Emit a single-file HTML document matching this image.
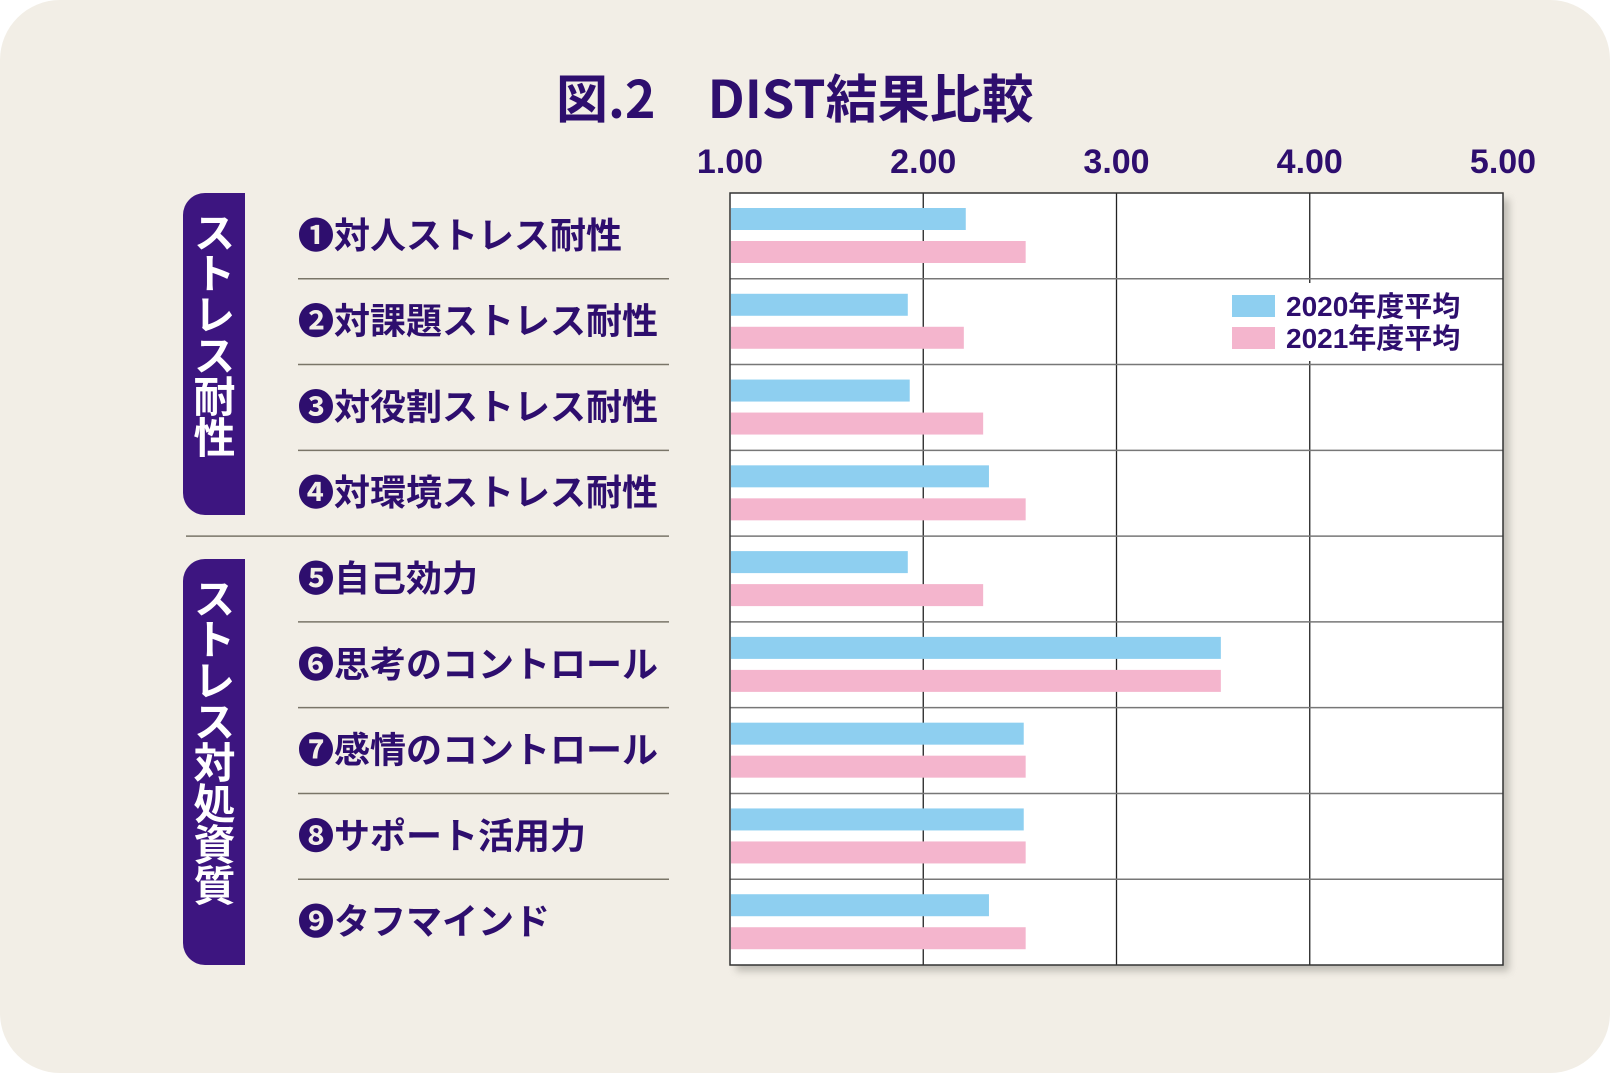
<!DOCTYPE html>
<html><head><meta charset="utf-8">
<style>
html,body{margin:0;padding:0;background:#fff;}
body{width:1610px;height:1073px;position:relative;overflow:hidden;font-family:"Liberation Sans","Noto Sans CJK JP",sans-serif;}
#bg{position:absolute;left:0;top:0;width:1610px;height:1073px;background:#f2eee6;border-radius:60px;}
.t{position:absolute;color:#2e0e6e;font-weight:bold;white-space:nowrap;}
.grp{position:absolute;left:183px;width:62px;background:#3d1580;border-radius:22px 0 0 22px;color:#fff;font-weight:bold;font-size:42px;writing-mode:vertical-rl;text-orientation:upright;letter-spacing:-1px;display:flex;justify-content:flex-start;align-items:center;padding-top:18px;box-sizing:border-box;font-family:"Noto Sans CJK JP",sans-serif;line-height:1;}
</style></head><body>
<div id="bg"></div>
<div class="t" style="left:556px;top:58px;font-size:52px;font-family:'Noto Sans CJK JP',sans-serif;">図.2　DIST結果比較</div>
<div class="grp" style="top:193px;height:322px;">ストレス耐性</div>
<div class="grp" style="top:559px;height:406px;">ストレス対処資質</div>
<svg id="chart" width="1610" height="1073" style="position:absolute;left:0;top:0"></svg>
<script>
const categories=["❶対人ストレス耐性","❷対課題ストレス耐性","❸対役割ストレス耐性","❹対環境ストレス耐性","❺自己効力","❻思考のコントロール","❼感情のコントロール","❽サポート活用力","❾タフマインド"];
const values2020=[2.22,1.92,1.93,2.34,1.92,3.54,2.52,2.52,2.34];
const values2021=[2.53,2.21,2.31,2.53,2.31,3.54,2.53,2.53,2.53];
const ticks=[1,2,3,4,5];
const tickLabels=["1.00","2.00","3.00","4.00","5.00"];
const seriesNames=["2020年度平均","2021年度平均"];

const NS="http://www.w3.org/2000/svg";
const svg=document.getElementById('chart');
const L=730,R=1503,T=193,B=965;
const rowH=(B-T)/categories.length;
const x=v=>L+(v-1)/(5-1)*(R-L);
function mk(tag,attrs,parent){const e=document.createElementNS(NS,tag);for(const k in attrs)e.setAttribute(k,attrs[k]);(parent||svg).appendChild(e);return e;}
const font="'Liberation Sans','Noto Sans CJK JP',sans-serif";
const defs=mk('defs',{});
const f=mk('filter',{id:'blur',x:'-5%',y:'-5%',width:'110%',height:'110%'},defs);
mk('feGaussianBlur',{stdDeviation:4},f);
const sh=mk('rect',{x:L+6,y:T+6,width:R-L,height:B-T,fill:'#8a8780',opacity:0.5,filter:'url(#blur)'});


const pa=mk('rect',{x:L,y:T,width:R-L,height:B-T,fill:'#fff'});


[2,3,4].forEach(v=>{
  const g=mk('line',{x1:x(v),x2:x(v),y1:T,y2:B,stroke:'#222','stroke-width':1.3});
  
  
});
for(let i=1;i<categories.length;i++){
  const y=T+i*rowH;
  const h=mk('line',{x1:L,x2:R,y1:y,y2:y,stroke:'#777','stroke-width':1.5});
  
  
  const l=mk('line',{x1:298,x2:669,y1:y,y2:y,stroke:'#7a7568','stroke-width':1.5});
  
  
  if(i===4){l.setAttribute('x1',186);}
}
categories.forEach((c,i)=>{
  const y0=T+i*rowH;
  const b1=mk('rect',{x:L+1,y:y0+15,width:x(values2020[i])-L-1,height:22,fill:'#8ecff0'});
  
  
  const b2=mk('rect',{x:L+1,y:y0+48,width:x(values2021[i])-L-1,height:22,fill:'#f4b5cd'});
  
  
  const t=mk('text',{x:298,y:y0+rowH/2+12,'font-size':36,'font-weight':'bold',fill:'#2e0e6e','font-family':font});
  t.textContent=c;
  
  
});
mk('rect',{x:L,y:T,width:R-L,height:B-T,fill:'none',stroke:'#333','stroke-width':1.5});
const lgBg=mk('rect',{x:1200,y:283,width:300,height:78,fill:'#fff'});


['#8ecff0','#f4b5cd'].forEach((col,i)=>{
  const s=mk('rect',{x:1232,y:295+i*32,width:43,height:22,fill:col});
  
  
  const t=mk('text',{x:1286,y:316+i*32,'font-size':28,'font-weight':'bold',fill:'#2e0e6e','font-family':font});
  t.textContent=seriesNames[i];
  
  
});
ticks.forEach((v,i)=>{
  const t=mk('text',{x:x(v),y:173,'text-anchor':'middle','font-size':34,'font-weight':'bold',fill:'#2e0e6e','font-family':font});
  t.textContent=tickLabels[i];
  
  
});
</script>
</body></html>
